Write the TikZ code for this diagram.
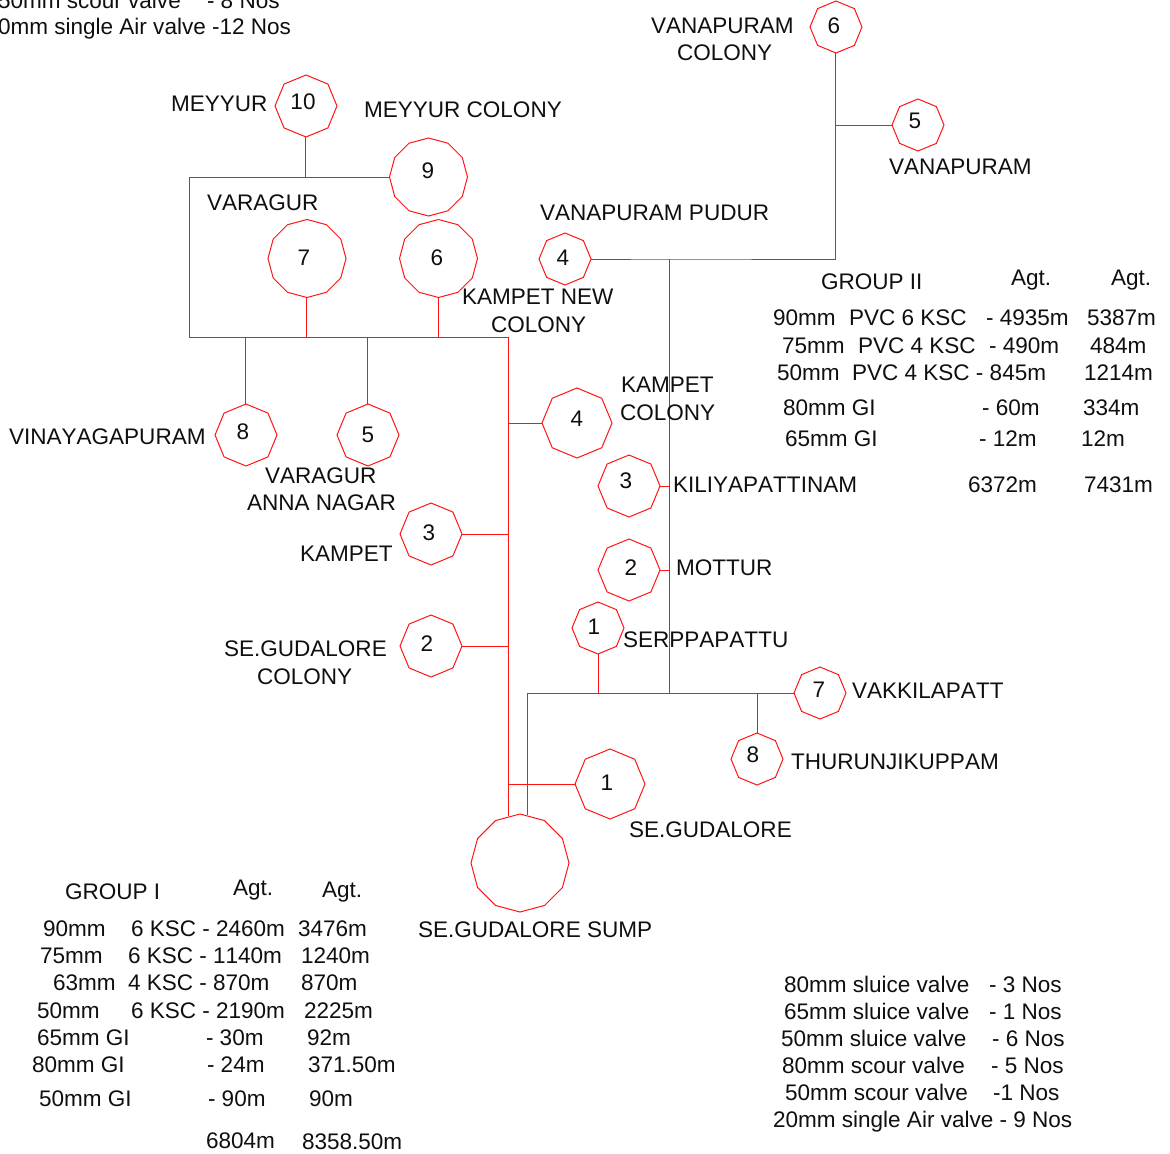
\documentclass[tikz,border=0pt]{standalone}
\usepackage{fontspec}
\setmainfont[Kerning=Off]{Liberation Sans}
\usetikzlibrary{shapes.geometric}
\definecolor{pipe}{RGB}{255,20,20}
\definecolor{ink}{RGB}{15,15,15}
\newcounter{lb}
\tikzset{
  txt/.style={anchor=base west,inner sep=0pt,outer sep=0pt,text=ink,font=\fontsize{16.9}{20}\selectfont},
  num/.style={anchor=center,inner sep=0pt,outer sep=0pt,text=ink,font=\fontsize{16.9}{20}\selectfont},
  oct/.style={regular polygon,regular polygon sides=8,shape border rotate=22.5,draw=pipe,line width=.75pt,inner sep=0pt,outer sep=0pt,minimum size=#1*1.5pt},
  dod/.style={regular polygon,regular polygon sides=12,shape border rotate=15,draw=pipe,line width=.75pt,inner sep=0pt,outer sep=0pt,minimum size=#1*1.5pt},
  pipeline/.style={draw=pipe,line width=.75pt}
}
\newcommand{\lab}[3]{\stepcounter{lb}\node[txt] (lab\thelb) at (#1,#2) {#3};}
\newcommand{\dig}[3]{\stepcounter{lb}\node[num] (lab\thelb) at (#1,#2+1) {#3};}
\begin{document}
\begin{tikzpicture}[x=.75pt,y=-.75pt]
\useasboundingbox (0,0) rectangle (1170,1153);
% polygons
\node[oct=26] (a6) at (836,27) {};
\node[oct=26] (a5) at (918,125) {};
\node[oct=26] (a4) at (565,259) {};
\node[oct=26] (a7) at (820,693) {};
\node[oct=26] (a8) at (757,759) {};
\node[oct=26] (a1) at (598,628) {};
\node[oct=31] (a3) at (629,486) {};
\node[oct=31] (a2) at (629,570) {};
\node[oct=31] (b10) at (306,106) {};
\node[dod=39] (b9) at (428.5,177) {};
\node[dod=39] (b7) at (307,258.5) {};
\node[dod=39] (b6) at (438.5,258.5) {};
\node[oct=31] (b8) at (246,435) {};
\node[oct=31] (b5) at (368,435) {};
\node[oct=35] (b4) at (577,423) {};
\node[oct=31] (b3) at (431,534) {};
\node[oct=31] (b2) at (431,646) {};
\node[oct=35] (b1) at (610,784) {};
\node[dod=49] (sump) at (520,863) {};
% junctions
\coordinate (j1) at (835.5,125);
\coordinate (j2) at (835.5,259);
\coordinate (j3) at (669.5,259);
\coordinate (j4) at (669.5,693);
\coordinate (j5) at (527.5,693);
\coordinate (j6) at (598,693);
\coordinate (j7) at (757,693);
\coordinate (j8) at (669.5,486);
\coordinate (j9) at (669.5,570);
\coordinate (k1) at (189.5,177);
\coordinate (k2) at (305.5,177);
\coordinate (k3) at (189.5,337);
\coordinate (k4) at (245.5,337);
\coordinate (k5) at (306.5,337);
\coordinate (k6) at (367,337);
\coordinate (k7) at (438,337);
\coordinate (k8) at (508.5,337);
\coordinate (k9) at (508.5,423);
\coordinate (k10) at (508.5,534);
\coordinate (k11) at (508.5,646);
\coordinate (k12) at (508.5,784);
\coordinate (k13) at (508.5,816);
\coordinate (k14) at (527.5,814.5);
% connectors
\draw[pipeline] (j1 |- a6.-90) -- (j1) -- (j2) -- (j3) -- (a4.0);
\draw[pipeline] (j1) -- (a5.180);
\draw[pipeline] (j3) -- (j9) -- (j4);
\draw[pipeline] (j8) -- (a3.0);
\draw[pipeline] (j9) -- (a2.0);
\draw[pipeline] (k14) -- (j5) -- (j6) -- (j4) -- (j7) -- (a7.180);
\draw[pipeline] (j6) -- (j6 |- a1.-90);
\draw[pipeline] (j7) -- (j7 |- a8.90);
\draw[pipeline] (b9.180) -- (k1) -- (k3) -- (k8) -- (k13);
\draw[pipeline] (k2 |- b10.-90) -- (k2);
\draw[pipeline] (k5 |- b7.-90) -- (k5);
\draw[pipeline] (k7 |- b6.-90) -- (k7);
\draw[pipeline] (k4) -- (k4 |- b8.90);
\draw[pipeline] (k6) -- (k6 |- b5.90);
\draw[pipeline] (k9) -- (b4.180);
\draw[pipeline] (k10) -- (b3.0);
\draw[pipeline] (k11) -- (b2.0);
\draw[pipeline] (k12) -- (b1.180);
% digits
\dig{834}{25}{6}\dig{915}{120}{5}\dig{563}{257}{4}\dig{819}{689}{7}\dig{753}{754}{8}
\dig{594}{626}{1}\dig{626}{480}{3}\dig{631}{567}{2}\dig{303}{101}{10}\dig{428}{170}{9}
\dig{304}{257}{7}\dig{437}{257}{6}\dig{243}{431}{8}\dig{368}{434}{5}\dig{577}{418}{4}
\dig{429}{532}{3}\dig{427}{643}{2}\dig{607}{782}{1}
% top left
\lab{-2}{8}{50mm scour valve}\lab{207}{8}{- 8 Nos}
\lab{-2}{34}{0mm single Air valve -12 Nos}
% place names
\lab{651}{33}{VANAPURAM}\lab{677}{60}{COLONY}
\lab{889}{174}{VANAPURAM}
\lab{540}{220}{VANAPURAM PUDUR}
\lab{462}{304}{KAMPET NEW}\lab{491}{332}{COLONY}
\lab{621}{392}{KAMPET}\lab{620}{420}{COLONY}
\lab{171}{111}{MEYYUR}\lab{364}{117}{MEYYUR COLONY}
\lab{207}{210}{VARAGUR}
\lab{9}{444}{VINAYAGAPURAM}
\lab{265}{483}{VARAGUR}\lab{247}{510}{ANNA NAGAR}
\lab{300}{561}{KAMPET}
\lab{224}{656}{SE.GUDALORE}\lab{257}{684}{COLONY}
\lab{673}{492}{KILIYAPATTINAM}
\lab{676}{575}{MOTTUR}
\lab{623}{647}{SERPPAPATTU}
\lab{852}{698}{VAKKILAPATT}
\lab{791}{769}{THURUNJIKUPPAM}
\lab{629}{837}{SE.GUDALORE}
\lab{418}{937}{SE.GUDALORE SUMP}
% group II
\lab{821}{289}{GROUP II}\lab{1011}{285}{Agt.}\lab{1111}{285}{Agt.}
\lab{773}{325}{90mm}\lab{849}{325}{PVC 6 KSC}\lab{986}{325}{- 4935m}\lab{1087}{325}{5387m}
\lab{782}{353}{75mm}\lab{858}{353}{PVC 4 KSC}\lab{989}{353}{- 490m}\lab{1090}{353}{484m}
\lab{777}{380}{50mm}\lab{852}{380}{PVC 4 KSC - 845m}\lab{1084}{380}{1214m}
\lab{783}{415}{80mm GI}\lab{982}{415}{- 60m}\lab{1083}{415}{334m}
\lab{785}{446}{65mm GI}\lab{979}{446}{- 12m}\lab{1081}{446}{12m}
\lab{968}{492}{6372m}\lab{1084}{492}{7431m}
% group I
\lab{65}{899}{GROUP I}\lab{233}{895}{Agt.}\lab{322}{897}{Agt.}
\lab{43}{936}{90mm}\lab{131}{936}{6 KSC - 2460m}\lab{298}{936}{3476m}
\lab{40}{963}{75mm}\lab{128}{963}{6 KSC - 1140m}\lab{301}{963}{1240m}
\lab{53}{990}{63mm}\lab{128}{990}{4 KSC - 870m}\lab{301}{990}{870m}
\lab{37}{1018}{50mm}\lab{131}{1018}{6 KSC - 2190m}\lab{304}{1018}{2225m}
\lab{37}{1045}{65mm GI}\lab{206}{1045}{- 30m}\lab{307}{1045}{92m}
\lab{32}{1072}{80mm GI}\lab{207}{1072}{- 24m}\lab{308}{1072}{371.50m}
\lab{39}{1106}{50mm GI}\lab{208}{1106}{- 90m}\lab{309}{1106}{90m}
\lab{206}{1148}{6804m}\lab{302}{1149}{8358.50m}
% valves
\lab{784}{992}{80mm sluice valve}\lab{989}{992}{- 3 Nos}
\lab{784}{1019}{65mm sluice valve}\lab{989}{1019}{- 1 Nos}
\lab{781}{1046}{50mm sluice valve}\lab{992}{1046}{- 6 Nos}
\lab{782}{1073}{80mm scour valve}\lab{991}{1073}{- 5 Nos}
\lab{785}{1100}{50mm scour valve}\lab{993}{1100}{-1 Nos}
\lab{773}{1127}{20mm single Air valve - 9 Nos}
\end{tikzpicture}
\end{document}
